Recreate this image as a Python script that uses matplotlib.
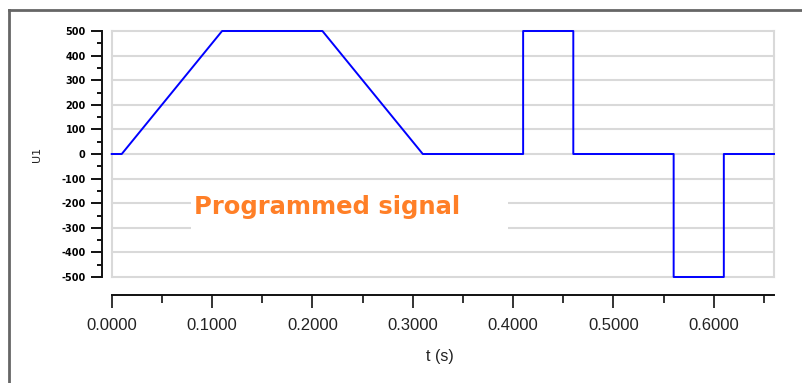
import matplotlib
matplotlib.use("Agg")
import matplotlib.pyplot as plt
from matplotlib.ticker import MultipleLocator, FormatStrFormatter
from matplotlib.lines import Line2D
from matplotlib.patches import Rectangle

plt.rcParams['axes.unicode_minus'] = False

# Data: programmed signal U1 over time t (s)
t = [0.0, 0.01, 0.11, 0.21, 0.31, 0.41, 0.41, 0.46, 0.46, 0.56, 0.56, 0.61, 0.61, 0.66]
u1 = [0, 0, 500, 500, 0, 0, 500, 500, 0, 0, -500, -500, 0, 0]
y_ticks = [-500, -400, -300, -200, -100, 0, 100, 200, 300, 400, 500]
x_ticks = [0.0, 0.1, 0.2, 0.3, 0.4, 0.5, 0.6]

W, H = 803, 383
fig = plt.figure(figsize=(W / 100, H / 100), dpi=100)
fig.patch.set_facecolor('white')

left, right, top, bottom = 111.7, 774.0, 31.0, 277.0
ax = fig.add_axes([left / W, 1 - bottom / H, (right - left) / W, (bottom - top) / H])
ax.set_xlim(0, 0.66)
ax.set_ylim(-500, 500)
ax.set_facecolor('white')

grid_c = '#d9d9d9'
for yv in y_ticks:
    ax.axhline(yv, color=grid_c, lw=1.5, zorder=1, clip_on=False)
ax.axvline(0, color=grid_c, lw=1.5, zorder=1, clip_on=False)
ax.axvline(0.66, color=grid_c, lw=1.5, zorder=1, clip_on=False)

# white box behind annotation
ax.add_patch(Rectangle((0.0786, -370), 0.395 - 0.0786, 230, facecolor='white',
                       edgecolor='none', zorder=2))
ax.text(0.0816, -244, 'Programmed signal', color='#ff7f27', fontsize=17.5,
        fontweight='bold', family='DejaVu Sans', ha='left', va='baseline', zorder=3)

ax.plot(t, u1, color='#0000ff', lw=1.4, zorder=4, clip_on=False)

for s in ['top', 'right']:
    ax.spines[s].set_visible(False)
ax.spines['left'].set_position(('outward', 7.2))
ax.spines['bottom'].set_position(('outward', 13))
ax.spines['left'].set_linewidth(1.4)
ax.spines['bottom'].set_linewidth(1.4)
ax.spines['left'].set_color('#111111')
ax.spines['bottom'].set_color('#111111')

ax.set_yticks(y_ticks)
ax.yaxis.set_minor_locator(MultipleLocator(50))
ax.set_xticks(x_ticks)
ax.xaxis.set_minor_locator(MultipleLocator(0.05))
ax.xaxis.set_major_formatter(FormatStrFormatter('%.4f'))

ax.tick_params(axis='y', which='major', direction='out', length=8, width=1.4,
               color='#111111', pad=3.5, labelsize=7)
ax.tick_params(axis='y', which='minor', direction='out', length=3.6, width=1.4,
               color='#111111')
for lab in ax.get_yticklabels():
    lab.set_fontweight('bold')
    lab.set_family('DejaVu Sans')
ax.tick_params(axis='x', which='major', direction='out', length=9.4, width=1.2,
               color='#111111', pad=7, labelsize=12)
ax.tick_params(axis='x', which='minor', direction='out', length=5.5, width=1.2,
               color='#111111')
for lab in ax.get_xticklabels():
    lab.set_family('Liberation Sans')
    lab.set_color('#222222')

ax.set_xlabel('t (s)', fontsize=11.5, family='Liberation Sans', color='#222222')
ax.xaxis.set_label_coords((440 - left) / (right - left), (bottom - 356) / (bottom - top))
ax.xaxis.label.set_va('center')
ax.set_ylabel('U1', fontsize=8, family='DejaVu Sans', color='#222222')
ax.yaxis.set_label_coords((37 - left) / (right - left), 0.5)
ax.yaxis.label.set_va('center')

# outer frame (left and top edges)
fx = 8.7 / W
fy = 1 - 9.5 / H
fig.add_artist(Line2D([fx, fx], [0, fy], transform=fig.transFigure, color='#666666', lw=2))
fig.add_artist(Line2D([fx, 1], [fy, fy], transform=fig.transFigure, color='#666666', lw=2))

fig.savefig('out.png', dpi=100, facecolor='white')
